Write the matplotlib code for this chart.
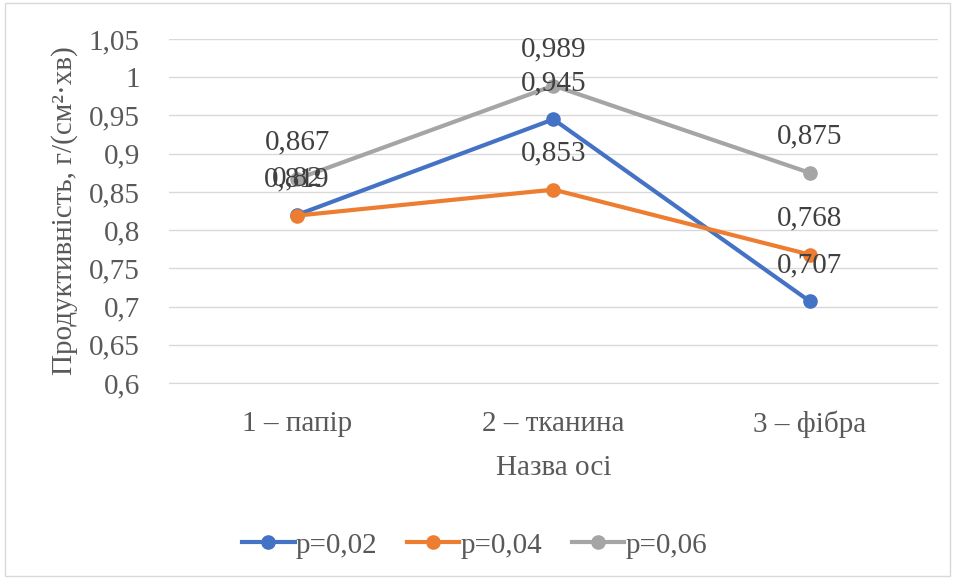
import matplotlib
matplotlib.use("Agg")
import matplotlib.pyplot as plt
from matplotlib.patches import Rectangle
from matplotlib.lines import Line2D

categories = ["1 – папір", "2 – тканина", "3 – фібра"]
series_names = ["p=0,02", "p=0,04", "p=0,06"]
p002 = [0.82, 0.945, 0.707]
p004 = [0.819, 0.853, 0.768]
p006 = [0.867, 0.989, 0.875]
colors = ["#4472C4", "#ED7D31", "#A5A5A5"]
yticks = [0.6, 0.65, 0.7, 0.75, 0.8, 0.85, 0.9, 0.95, 1.0, 1.05]

plt.rcParams["font.family"] = ["Liberation Serif", "DejaVu Serif"]
FS = 21

fig = plt.figure(figsize=(9.55, 5.79), dpi=100)
fig.patches.append(Rectangle((0.005, 0.005), 0.99, 0.99, transform=fig.transFigure,
                             fill=False, edgecolor="#d9d9d9", linewidth=1))
ax = fig.add_axes([0.177, 0.3385, 0.805, 0.5941])

def fmt(v):
    s = ("%.3f" % v).rstrip("0").rstrip(".")
    return s.replace(".", ",")

x = list(range(len(categories)))
for vals, name, c in zip([p002, p004, p006], series_names, colors):
    ax.plot(x, vals, color=c, lw=3, marker="o", markersize=9.5, label=name,
            solid_capstyle="round", zorder=3)
    for xi, v in zip(x, vals):
        ax.annotate(fmt(v), (xi, v), xytext=(0, 26), textcoords="offset points",
                    ha="center", va="center", fontsize=FS, color="#404040", zorder=4)

ax.set_xlim(-0.5, 2.5)
ax.set_ylim(0.6, 1.05)
ax.set_yticks(yticks)
ax.set_yticklabels([fmt(t) for t in yticks])
ax.set_xticks(x)
ax.set_xticklabels(categories)
ax.tick_params(axis="both", length=0, labelsize=FS, labelcolor="#595959")
ax.tick_params(axis="x", pad=20)
ax.tick_params(axis="y", pad=21)
ax.grid(axis="y", color="#d9d9d9", lw=1)
ax.set_axisbelow(True)
for s in ["top", "right", "left"]:
    ax.spines[s].set_visible(False)
ax.spines["bottom"].set_color("#d9d9d9")

ax.set_xlabel("Назва осі", fontsize=FS, color="#595959", labelpad=12)
ax.set_ylabel("Продуктивність, г/(см²·хв)", fontsize=FS, color="#595959", labelpad=8)

handles = [Line2D([0], [0], color=c, lw=3, marker="o", markersize=9.5) for c in colors]
fig.legend(handles, series_names, loc="center", bbox_to_anchor=(0.497, 0.058), ncol=3,
           frameon=False, fontsize=FS, labelcolor="#595959", handlelength=1.8,
           handletextpad=0.05, columnspacing=1.0)

fig.savefig("out.png", dpi=100)
